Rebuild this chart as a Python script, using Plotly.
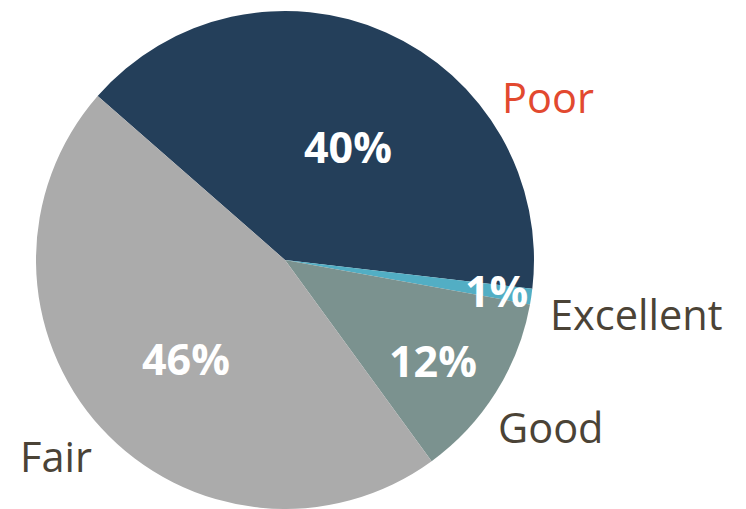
import plotly.graph_objects as go

# Ratings share
categories = ["Poor", "Excellent", "Good", "Fair"]
values = [40, 1, 12, 46]
colors = ["#243F5A", "#52AEC4", "#7B928F", "#ABABAB"]
label_colors = ["#E2492F", "#4B4336", "#4B4336", "#4B4336"]

W, H = 746, 509
CX, CY, R = 285, 260, 249  # pie centre / radius in pixels

# label anchor points in pixels (x, y from top)
pct_pos = [(348, 146), (496, 290), (433, 360), (186, 358)]
name_pos = [(548, 97), (636, 314), (551, 427), (56, 456)]

total = sum(values)
pct_text = [f"{round(v / total * 100)}%" for v in values]

fig = go.Figure(go.Pie(
    labels=categories,
    values=values,
    sort=False,
    direction="clockwise",
    rotation=-48.8,
    marker=dict(colors=colors, line=dict(width=0)),
    textinfo="none",
    hoverinfo="label+percent",
    showlegend=False,
    domain=dict(x=[(CX - R) / W, (CX + R) / W],
                y=[(H - CY - R) / H, (H - CY + R) / H]),
))

def px(x, y):
    return x / W, 1 - y / H

for txt, (x, y) in zip(pct_text, pct_pos):
    ax, ay = px(x, y)
    fig.add_annotation(x=ax, y=ay, xref="paper", yref="paper", text=txt,
                       showarrow=False, xanchor="center", yanchor="middle",
                       font=dict(family="Open Sans", size=43, color="white",
                                 weight="bold"))

for name, col, (x, y) in zip(categories, label_colors, name_pos):
    ax, ay = px(x, y)
    fig.add_annotation(x=ax, y=ay, xref="paper", yref="paper", text=name,
                       showarrow=False, xanchor="center", yanchor="middle",
                       font=dict(family="Open Sans", size=41.5, color=col))

fig.update_layout(
    width=W, height=H,
    margin=dict(l=0, r=0, t=0, b=0),
    paper_bgcolor="white",
    plot_bgcolor="white",
)

fig.write_html("out.html")
